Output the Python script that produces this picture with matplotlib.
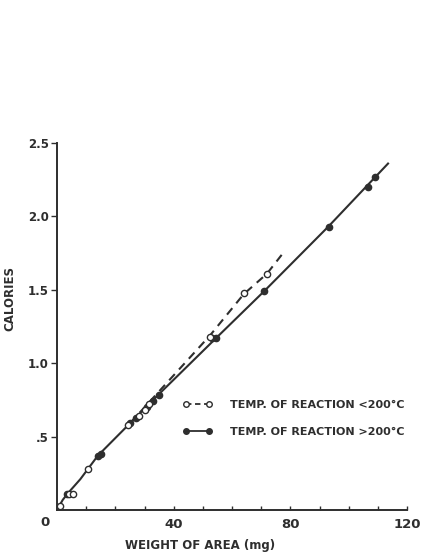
import matplotlib
matplotlib.use("Agg")
import matplotlib.pyplot as plt
from matplotlib.lines import Line2D

# ---- data ----
# line vertices (drawn curves)
solid_x = [0, 2, 4, 8, 14, 25, 35, 55, 71, 93, 113.5]
solid_y = [0, 0.07, 0.12, 0.21, 0.37, 0.59, 0.79, 1.18, 1.49, 1.93, 2.36]
dashed_x = [25, 52.5, 64, 72, 77.5]
dashed_y = [0.59, 1.19, 1.47, 1.61, 1.75]

# measured points, T > 200 C (filled)
hot_x = [3.3, 14, 15, 25, 27.2, 31, 33, 35, 53, 54.5, 71, 93.3, 106.6, 109]
hot_y = [0.11, 0.37, 0.38, 0.59, 0.63, 0.70, 0.74, 0.78, 1.17, 1.17, 1.49, 1.93, 2.20, 2.27]
# measured points, T < 200 C (open)
cold_x = [1, 4, 5.5, 10.7, 24.5, 28, 30, 31.5, 52.5, 64, 72]
cold_y = [0.03, 0.11, 0.11, 0.28, 0.58, 0.64, 0.68, 0.72, 1.18, 1.48, 1.61]

labels = ["TEMP. OF REACTION <200°C", "TEMP. OF REACTION >200°C"]
x_ticks = [0, 10, 20, 30, 40, 50, 60, 70, 80, 90, 100, 110, 120]
x_labels = ["", "", "", "", "40", "", "", "", "80", "", "", "", "120"]
y_ticks = [0.5, 1.0, 1.5, 2.0, 2.5]
y_labels = [".5", "1.0", "1.5", "2.0", "2.5"]

ink = "#2e2e2e"
plt.rcParams['font.family'] = ['DejaVu Sans']

fig = plt.figure(figsize=(4.21, 5.52), dpi=100)
ax = fig.add_axes([57/421, 1 - 510/552, 350/421, 367/552])

ax.plot(solid_x, solid_y, '-', color=ink, lw=1.5, zorder=2)
ax.plot(dashed_x, dashed_y, '--', color=ink, lw=1.5, dashes=(4, 3), zorder=2)
ax.plot(hot_x, hot_y, 'o', ms=4.5, mfc=ink, mec=ink, zorder=3)
ax.plot(cold_x, cold_y, 'o', ms=4.5, mfc='white', mec=ink, mew=1.0, zorder=3)

ax.set_xlim(0, 120)
ax.set_ylim(0, 2.5)
for s in ['top', 'right']:
    ax.spines[s].set_visible(False)
for s in ['left', 'bottom']:
    ax.spines[s].set_color(ink)
    ax.spines[s].set_linewidth(1.4)

ax.set_xticks(x_ticks)
ax.set_xticklabels(x_labels)
ax.set_yticks(y_ticks)
ax.set_yticklabels(y_labels)
ax.tick_params(axis='x', direction='in', length=3, width=1, color=ink,
               labelsize=9.5, labelcolor=ink, pad=6)
ax.tick_params(axis='y', direction='out', length=4, width=1, color=ink,
               labelsize=8.5, labelcolor=ink, pad=2)
for t in ax.get_xticklabels() + ax.get_yticklabels():
    t.set_fontweight('bold')
ax.text(-0.02, -0.015, "0", transform=ax.transAxes, ha='right', va='top',
        fontsize=9.5, fontweight='bold', color=ink)

ax.set_ylabel("CALORIES", fontsize=8.5, fontweight='bold', color=ink)
ax.yaxis.set_label_coords(-0.115, 0.575)
ax.set_xlabel("WEIGHT OF AREA (mg)", fontsize=8.5, fontweight='bold', color=ink)
ax.xaxis.set_label_coords(0.41, -0.08)

h1 = Line2D([], [], ls='--', color=ink, lw=1.3, dashes=(3, 2), marker='o',
            ms=4, mfc='white', mec=ink)
h2 = Line2D([], [], ls='-', color=ink, lw=1.3, marker='o', ms=4, mfc=ink, mec=ink)
leg = ax.legend([h1, h2], labels, loc='upper left', bbox_to_anchor=(0.36, 0.30),
                borderaxespad=0, borderpad=0,
                frameon=False, numpoints=2, handlelength=2.6, handletextpad=1.6,
                labelspacing=1.5, prop={'size': 8, 'weight': 'bold'})
for t in leg.get_texts():
    t.set_color(ink)

fig.savefig("out.png", dpi=100)
